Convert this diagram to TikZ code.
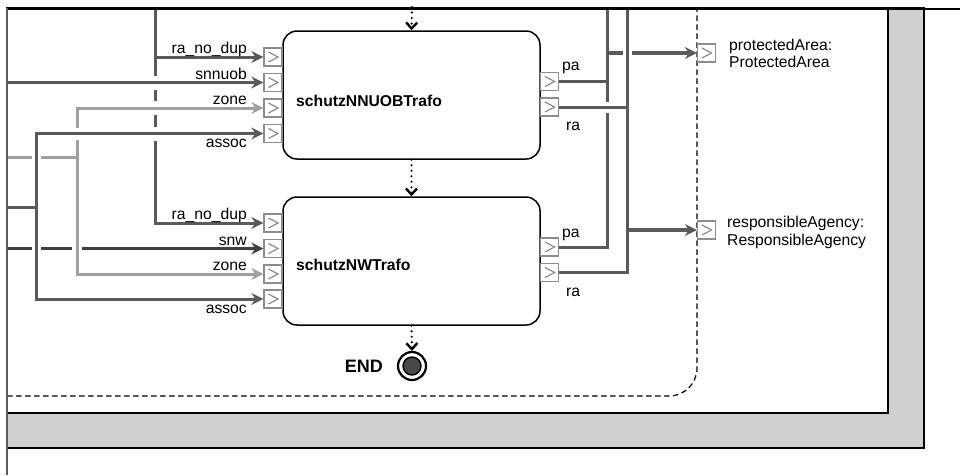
\documentclass[tikz,border=0pt]{standalone}
\usepackage{fontspec}
\setmainfont{Liberation Sans}
\usetikzlibrary{arrows.meta,calc}

\definecolor{wdark}{HTML}{5A5A5A}
\definecolor{wdarker}{HTML}{404040}
\definecolor{wlight}{HTML}{A0A0A0}
\definecolor{portc}{HTML}{8C8C8C}
\definecolor{bandc}{HTML}{D0D0D0}
\definecolor{endfill}{HTML}{484848}

% gap in a vertical wire at (x,y) where a horizontal wire passes over it
\newcommand\wirehopv[4]{%
  \fill[white] (#1-2.6,#2-#3) rectangle (#1+2.6,#2+#3);
  \draw[line width=3pt,#4] (#1-#3-1,#2) -- (#1+#3+1,#2);}
% gap in a horizontal wire at (x,y) where a vertical wire passes over it
\newcommand\wirehoph[4]{%
  \fill[white] (#1-#3,#2-2.6) rectangle (#1+#3,#2+2.6);
  \draw[line width=3pt,#4] (#1,#2-#3-1) -- (#1,#2+#3+1);}

\begin{document}
\begin{tikzpicture}[x=1pt,y=-1pt,
  conn/.style={line width=3pt,draw=#1},
  conn/.default=wdark,
  sarrow/.style={-{Stealth[length=12pt,width=12pt,inset=4pt]}},
  port/.style={draw=portc,line width=1.3pt,fill=white,minimum size=18pt,inner sep=0pt,
    path picture={\draw[portc,line width=1.2pt]
      ($(path picture bounding box.center)+(-4.5pt,5pt)$) --
      ($(path picture bounding box.center)+(5pt,0pt)$) --
      ($(path picture bounding box.center)+(-4.5pt,-5pt)$);}},
  block/.style={draw,line width=1.5pt,rounded corners=14pt,fill=white,
    minimum width=257pt,minimum height=128pt,inner sep=0pt},
  lab/.style={font=\fontsize{15.7}{18}\selectfont,inner sep=0pt},
  title/.style={font=\bfseries\fontsize{15.7}{18}\selectfont,inner sep=0pt},
  flow/.style={line width=2.4pt,line cap=round,dash pattern=on 0pt off 5.5pt,
    -{Straight Barb[length=6pt,width=11pt]}},
]
\useasboundingbox (0,0) rectangle (960,475);

% frame with grey band
\filldraw[fill=bandc,draw=black,line width=1.3pt] (7,8) rectangle (924,448);
\filldraw[fill=white,draw=black,line width=1.3pt] (7,8) rectangle (888,413);

% dashed region boundary
\draw[line width=1.2pt,dash pattern=on 5.5pt off 3.5pt,rounded corners=28pt]
  (7,396) -- (697,396) -- (697,8);

% blocks
\node[block] (b1) at (411.5,95) {};
\node[block] (b2) at (411.5,261) {};

% input ports
\foreach \n/\y in {11/57,12/82.5,13/108,14/133.5,21/223,22/248.5,23/274,24/299}
  \node[port] (ip\n) at (273,\y) {};
% output ports
\foreach \n/\y in {11/81.5,12/107,21/247,22/272.5}
  \node[port] (op\n) at (549.5,\y) {};
% boundary output ports
\node[port] (outPA) at (706.5,53) {};
\node[port] (outRA) at (706.5,230) {};

% junction points
\coordinate (raTop) at (155,8);
\coordinate (raBend) at (155,223);
\coordinate (zoneBend) at (77,108);
\coordinate (zoneLow) at (77,274);
\coordinate (zoneIn) at (7,157);
\coordinate (zoneJ) at (77,157);
\coordinate (assocBend) at (36,133.5);
\coordinate (assocLow) at (36,299);
\coordinate (assocIn) at (7,207);
\coordinate (assocJ) at (36,207);
\coordinate (paTop) at (607,8);
\coordinate (paLow) at (607,247);
\coordinate (paJ) at (607,53);
\coordinate (raTopR) at (627,8);
\coordinate (raLowR) at (627,272.5);
\coordinate (raJ) at (627,230);

% input wires
\draw[conn,sarrow] (raTop) -- (raBend) -- (ip21.west);
\draw[conn,sarrow] (155,57) -- (ip11.west);
\draw[conn,sarrow] (7,82.5) -- (ip12.west);
\draw[conn=wlight,sarrow] (zoneLow) -- (zoneBend) -- (ip13.west);
\draw[conn=wlight,sarrow] (zoneBend) -- (zoneLow) -- (ip23.west);
\draw[conn=wlight] (zoneIn) -- (zoneJ);
\draw[conn,sarrow] (assocLow) -- (assocBend) -- (ip14.west);
\draw[conn,sarrow] (assocBend) -- (assocLow) -- (ip24.west);
\draw[conn] (assocIn) -- (assocJ);
\draw[conn=wdarker,sarrow] (7,248.5) -- (ip22.west);

% output wires
\draw[conn] (op11.east) -- (607,81.5);
\draw[conn] (op21.east) -- (paLow) -- (paTop);
\draw[conn] (op12.east) -- (627,107);
\draw[conn] (op22.east) -- (raLowR) -- (raTopR);
\draw[line width=3.3pt,draw=wdark,sarrow] (paJ) -- (outPA.west);
\draw[line width=3.3pt,draw=wdark,sarrow] (raJ) -- (outRA.west);

% line hops
\wirehopv{155}{82.5}{7}{wdark}
\wirehopv{155}{108}{7}{wlight}
\wirehopv{155}{133.5}{7}{wdark}
\wirehopv{77}{133.5}{6}{wdark}
\wirehoph{36}{157}{4.5}{wdark}
\wirehoph{36}{248.5}{4.5}{wdark}
\wirehoph{77}{248.5}{5}{wlight}
\wirehopv{607}{107}{5.5}{wdark}
\wirehoph{627}{53}{4.5}{wdark}

% redraw ports over wire ends
\foreach \n in {11,12,13,14,21,22,23,24} \node[port] at (ip\n) {};

% borders of the visible area
\draw[black,line width=2.6pt] (6,9) -- (960,9);
\draw[wdark,line width=2.2pt] (7,8) -- (7,475);

% input labels
\node[lab,anchor=base east] (l11) at (247,53.5) {ra\_no\_dup};
\node[lab,anchor=base east] (l12) at (247,79.5) {snnuob};
\node[lab,anchor=base east] (l13) at (247,104.5) {zone};
\node[lab,anchor=base east] (l14) at (247,147) {assoc};
\node[lab,anchor=base east] (l21) at (247,219) {ra\_no\_dup};
\node[lab,anchor=base east] (l22) at (247,245.5) {snw};
\node[lab,anchor=base east] (l23) at (247,270.5) {zone};
\node[lab,anchor=base east] (l24) at (247,313) {assoc};

% output labels
\node[lab,anchor=base west] (o11) at (562,70) {pa};
\node[lab,anchor=base west] (o12) at (566,130.5) {ra};
\node[lab,anchor=base west] (o21) at (562,237) {pa};
\node[lab,anchor=base west] (o22) at (566,296.5) {ra};

% boundary labels
\node[lab,anchor=base west] (tPA1) at (729,50) {protectedArea:};
\node[lab,anchor=base west] (tPA2) at (729,67) {ProtectedArea};
\node[lab,anchor=base west] (tRA1) at (727,227) {responsibleAgency:};
\node[lab,anchor=base west] (tRA2) at (727,245) {ResponsibleAgency};

% block titles
\node[title,anchor=base west] (t1) at (296,106) {schutzNNUOBTrafo};
\node[title,anchor=base west] (t2) at (296,270) {schutzNWTrafo};

% end node
\node[circle,draw=black,line width=2.2pt,fill=white,minimum size=28pt,inner sep=0pt] (endc) at (412,366) {};
\node[circle,draw=black,line width=1.4pt,fill=endfill,minimum size=18pt,inner sep=0pt] (endi) at (endc) {};
\node[font=\bfseries\fontsize{18}{20}\selectfont,inner sep=0pt,anchor=base east] (endl) at (383,372) {END};

% control flow
\coordinate (flowIn) at (412,7);
\draw[flow] (flowIn) -- (b1.north);
\draw[flow] (b1.south) -- (b2.north);
\draw[flow] (b2.south) -- (endc.north);
\end{tikzpicture}
\end{document}
